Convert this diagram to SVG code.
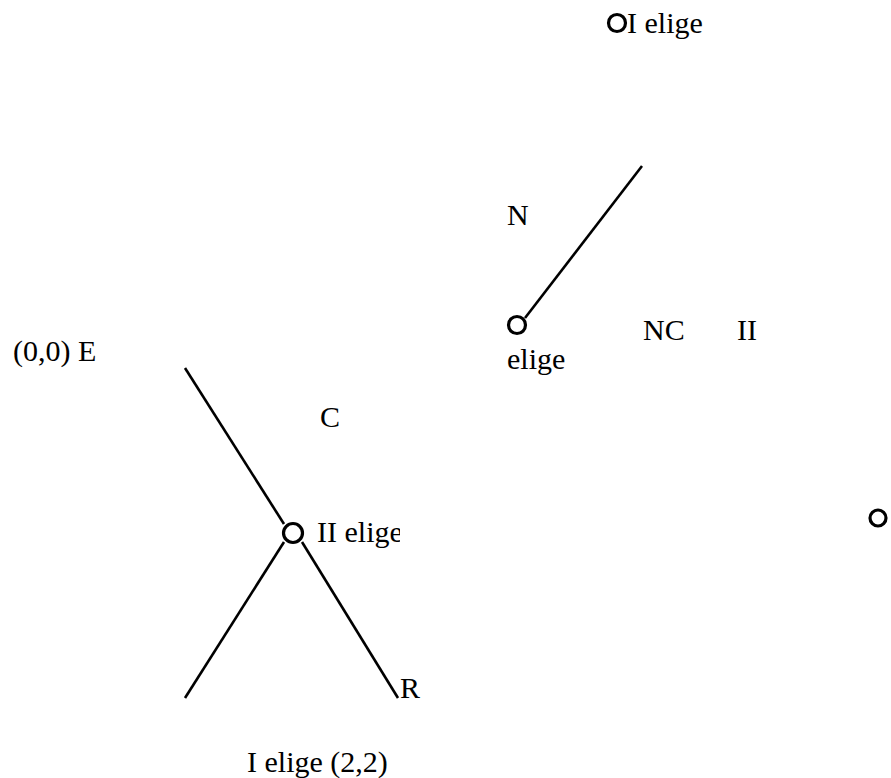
<svg xmlns="http://www.w3.org/2000/svg" width="891" height="778" viewBox="0 0 891 778">
<style>
text{font-family:"Liberation Serif","Times New Roman",serif;font-size:30px;fill:#000}
.ln{stroke:#000;stroke-width:2.6;fill:none}
.nd{stroke:#000;stroke-width:3.2;fill:#fff}
</style>
<defs>
<clipPath id="clipII"><rect x="300" y="500" width="100" height="60"/></clipPath>
</defs>
<rect width="891" height="778" fill="#fff"/>
<g id="connectors">
<line class="ln" x1="642" y1="166" x2="525" y2="318"/>
<line class="ln" x1="185" y1="368" x2="284" y2="524"/>
<line class="ln" x1="284" y1="542" x2="185" y2="698"/>
<line class="ln" x1="302" y1="542" x2="398" y2="698"/>
</g>
<g id="node-top">
<circle class="nd" cx="617" cy="23" r="8.5"/>
<text x="627" y="33">I elige</text>
</g>
<g id="node-right">
<circle class="nd" cx="517" cy="325" r="8.5"/>
<text x="507" y="225">N</text>
<text x="643" y="340">NC</text>
<text x="737" y="340">II</text>
<text x="507" y="369">elige</text>
</g>
<g id="node-left">
<text x="13" y="361">(0,0) E</text>
<text x="320" y="427">C</text>
<circle class="nd" cx="293" cy="533" r="9.5"/>
<text x="317" y="542" clip-path="url(#clipII)">II elige</text>
<text x="400" y="698">R</text>
<text x="247" y="772">I elige (2,2)</text>
</g>
<g id="node-edge">
<circle class="nd" cx="878" cy="518" r="8"/>
</g>
</svg>
